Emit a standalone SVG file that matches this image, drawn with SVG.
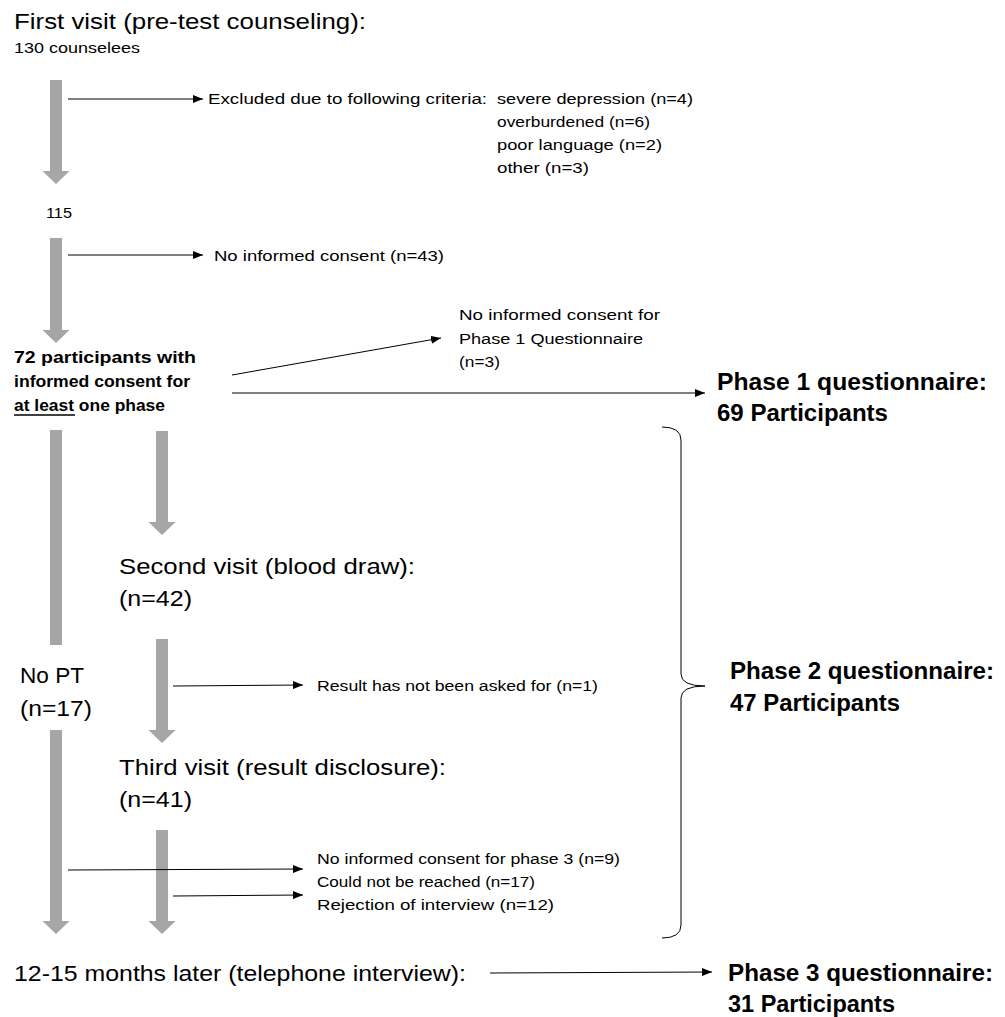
<svg xmlns="http://www.w3.org/2000/svg" width="1005" height="1017" viewBox="0 0 1005 1017">
<defs>
<style>
text{font-family:"Liberation Sans",Arial,sans-serif;fill:#000}
.big{font-size:22px}
.sm{font-size:15.5px}
.b{font-size:16.5px;font-weight:bold}
.ph{font-size:23px;font-weight:bold}
.flow{fill:#A6A6A6}
.con{stroke:#000;stroke-width:1;fill:none}
</style>
<marker id="ah" markerUnits="userSpaceOnUse" markerWidth="11" markerHeight="8" refX="10" refY="4" orient="auto">
<path d="M0,0 L10,4 L0,8 Z" fill="#000"/>
</marker>
</defs>
<rect width="1005" height="1017" fill="#fff"/>

<g id="flow-arrows">
<path class="flow" d="M50,80 H62 V171 H69.5 L56,184 L42.5,171 H50 Z"/>
<path class="flow" d="M50,238 H62 V330 H69.5 L56,343 L42.5,330 H50 Z"/>
<rect class="flow" x="50" y="430" width="12" height="215"/>
<path class="flow" d="M50,730 H62 V921 H69.5 L56,934 L42.5,921 H50 Z"/>
<path class="flow" d="M156,431 H168 V522 H175.5 L162,535 L148.5,522 H156 Z"/>
<path class="flow" d="M156,639 H168 V730 H175.5 L162,743 L148.5,730 H156 Z"/>
<path class="flow" d="M156,830 H168 V921 H175.5 L162,934 L148.5,921 H156 Z"/>
</g>

<g id="connectors">
<line class="con" x1="68" y1="99" x2="203" y2="99" marker-end="url(#ah)"/>
<line class="con" x1="68" y1="255" x2="203" y2="255" marker-end="url(#ah)"/>
<line class="con" x1="232" y1="375" x2="441" y2="338" marker-end="url(#ah)"/>
<line class="con" x1="232" y1="393" x2="705" y2="393" marker-end="url(#ah)"/>
<line class="con" x1="173" y1="686" x2="303" y2="685" marker-end="url(#ah)"/>
<line class="con" x1="68" y1="870" x2="303" y2="869" marker-end="url(#ah)"/>
<line class="con" x1="173" y1="896" x2="303" y2="895" marker-end="url(#ah)"/>
<line class="con" x1="490" y1="973" x2="712" y2="972" marker-end="url(#ah)"/>
<path class="con" d="M662,427 Q681,427 681,440 L681,674 Q681,686 705,686 Q681,686 681,698 L681,925 Q681,938 662,938"/>
</g>

<g id="first-visit">
<text class="big" x="14" y="29" textLength="352" lengthAdjust="spacingAndGlyphs">First visit (pre-test counseling):</text>
<text class="sm" x="14" y="53" textLength="126" lengthAdjust="spacingAndGlyphs">130 counselees</text>
</g>

<g id="excluded">
<text class="sm" x="208" y="104" textLength="279" lengthAdjust="spacingAndGlyphs">Excluded due to following criteria:</text>
<text class="sm" x="497" y="104" textLength="196" lengthAdjust="spacingAndGlyphs">severe depression (n=4)</text>
<text class="sm" x="497" y="127" textLength="153" lengthAdjust="spacingAndGlyphs">overburdened (n=6)</text>
<text class="sm" x="497" y="150" textLength="165" lengthAdjust="spacingAndGlyphs">poor language (n=2)</text>
<text class="sm" x="497" y="173" textLength="92" lengthAdjust="spacingAndGlyphs">other (n=3)</text>
</g>

<g id="n115">
<text class="sm" x="46" y="218" textLength="26" lengthAdjust="spacingAndGlyphs">115</text>
</g>

<g id="no-consent">
<text class="sm" x="214" y="261" textLength="230" lengthAdjust="spacingAndGlyphs">No informed consent (n=43)</text>
</g>

<g id="participants-72">
<text class="b" x="14" y="363" textLength="182" lengthAdjust="spacingAndGlyphs">72 participants with</text>
<text class="b" x="14" y="387" textLength="176" lengthAdjust="spacingAndGlyphs">informed consent for</text>
<text class="b" x="14" y="411" textLength="151" lengthAdjust="spacingAndGlyphs">at least one phase</text>
<line x1="14" y1="415" x2="75" y2="415" stroke="#000" stroke-width="1.5"/>
</g>

<g id="no-consent-p1">
<text class="sm" x="459" y="320" textLength="201" lengthAdjust="spacingAndGlyphs">No informed consent for</text>
<text class="sm" x="459" y="344" textLength="184" lengthAdjust="spacingAndGlyphs">Phase 1 Questionnaire</text>
<text class="sm" x="459" y="367" textLength="41" lengthAdjust="spacingAndGlyphs">(n=3)</text>
</g>

<g id="phase1">
<text class="ph" x="717" y="390" textLength="270" lengthAdjust="spacingAndGlyphs">Phase 1 questionnaire:</text>
<text class="ph" x="717" y="421" textLength="171" lengthAdjust="spacingAndGlyphs">69 Participants</text>
</g>

<g id="second-visit">
<text class="big" x="119" y="574" textLength="296" lengthAdjust="spacingAndGlyphs">Second visit (blood draw):</text>
<text class="big" x="119" y="606" textLength="73" lengthAdjust="spacingAndGlyphs">(n=42)</text>
</g>

<g id="no-pt">
<text class="big" x="20" y="683" textLength="64" lengthAdjust="spacingAndGlyphs">No PT</text>
<text class="big" x="20" y="716" textLength="72" lengthAdjust="spacingAndGlyphs">(n=17)</text>
</g>

<g id="not-asked">
<text class="sm" x="317" y="691" textLength="281" lengthAdjust="spacingAndGlyphs">Result has not been asked for (n=1)</text>
</g>

<g id="phase2">
<text class="ph" x="730" y="679" textLength="264" lengthAdjust="spacingAndGlyphs">Phase 2 questionnaire:</text>
<text class="ph" x="730" y="711" textLength="170" lengthAdjust="spacingAndGlyphs">47 Participants</text>
</g>

<g id="third-visit">
<text class="big" x="119" y="775" textLength="327" lengthAdjust="spacingAndGlyphs">Third visit (result disclosure):</text>
<text class="big" x="119" y="807" textLength="73" lengthAdjust="spacingAndGlyphs">(n=41)</text>
</g>

<g id="phase3-losses">
<text class="sm" x="317" y="864" textLength="303" lengthAdjust="spacingAndGlyphs">No informed consent for phase 3 (n=9)</text>
<text class="sm" x="317" y="887" textLength="218" lengthAdjust="spacingAndGlyphs">Could not be reached (n=17)</text>
<text class="sm" x="317" y="910" textLength="237" lengthAdjust="spacingAndGlyphs">Rejection of interview (n=12)</text>
</g>

<g id="telephone">
<text class="big" x="14" y="981" textLength="452" lengthAdjust="spacingAndGlyphs">12-15 months later (telephone interview):</text>
</g>

<g id="phase3">
<text class="ph" x="728" y="981" textLength="265" lengthAdjust="spacingAndGlyphs">Phase 3 questionnaire:</text>
<text class="ph" x="728" y="1012" textLength="167" lengthAdjust="spacingAndGlyphs">31 Participants</text>
</g>
</svg>
